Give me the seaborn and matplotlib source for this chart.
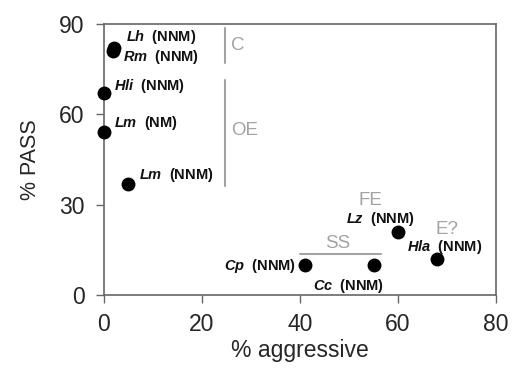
import numpy as np
import pandas as pd
import matplotlib
matplotlib.use("Agg")
import matplotlib.pyplot as plt
import seaborn as sns

species = ["Lh", "Rm", "Hli", "Lm", "Lm", "Cp", "Cc", "Lz", "Hla"]
status = ["NNM", "NNM", "NNM", "NM", "NNM", "NNM", "NNM", "NNM", "NNM"]
pct_aggressive = [2.0, 1.8, 0.0, 0.0, 5.0, 41.0, 55.0, 60.0, 68.0]
pct_pass = [82.2, 81.0, 67.0, 54.0, 37.0, 10.0, 10.0, 21.0, 12.0]

# label anchors (x, vertical centre) in data units, and alignment
label_x = [4.4, 3.8, 2.0, 2.0, 7.1, 39.2, 42.6, 49.4, 61.8]
label_y = [85.8, 79.0, 69.3, 57.3, 39.7, 9.5, 3.0, 25.3, 16.0]
label_ha = ["left"] * 5 + ["right"] + ["left"] * 3

df = pd.DataFrame({"species": species, "status": status,
                   "aggressive": pct_aggressive, "pass": pct_pass})

sns.set_style("ticks")
plt.rcParams["font.family"] = ["Liberation Sans", "DejaVu Sans"]
plt.rcParams["mathtext.fontset"] = "custom"
plt.rcParams["mathtext.it"] = "Liberation Sans:italic:bold"
plt.rcParams["mathtext.rm"] = "Liberation Sans:bold"

fig = plt.figure(figsize=(5.13, 3.71), dpi=100)
ax = fig.add_axes([0.2027, 0.205, 0.7643, 0.73])

sns.scatterplot(data=df, x="aggressive", y="pass", ax=ax, color="black",
                s=100, edgecolor="black", linewidth=0, zorder=3, clip_on=False)

for sp, st, lx, ly, ha in zip(species, status, label_x, label_y, label_ha):
    ax.text(lx, ly, rf"$\mathit{{{sp}}}$  ({st})", fontsize=10.5, ha=ha,
            va="center", color="#111111", fontweight="bold")

grey = "#a3a3a3"
ax.plot([24.6, 24.6], [77, 88.7], color=grey, lw=1.5)
ax.plot([24.6, 24.6], [36.3, 71.3], color=grey, lw=1.5)
ax.plot([40, 56.5], [13.7, 13.7], color=grey, lw=1.5)
ax.text(25.9, 83, "C", color=grey, fontsize=13.5, va="center", ha="left")
ax.text(25.9, 54.7, "OE", color=grey, fontsize=13.5, va="center", ha="left")
ax.text(47.6, 17.2, "SS", color=grey, fontsize=13.5, va="center", ha="center")
ax.text(54.3, 31.3, "FE", color=grey, fontsize=13.5, va="center", ha="center")
ax.text(70, 21.7, "E?", color=grey, fontsize=13.5, va="center", ha="center")

ax.set_xlim(0, 80)
ax.set_ylim(0, 90)
ax.set_xticks([0, 20, 40, 60, 80])
ax.set_yticks([0, 30, 60, 90])
ax.tick_params(labelsize=16.5, length=6, width=1, color="#666666")
ax.tick_params(axis="y", pad=8)
ax.tick_params(axis="x", pad=7)
for s in ax.spines.values():
    s.set_color("#666666")
    s.set_linewidth(1.2)
ax.set_xlabel("% aggressive", fontsize=16.5, labelpad=2)
ax.set_ylabel("% PASS", fontsize=15.5, labelpad=13)

fig.savefig("out.png", dpi=100)
